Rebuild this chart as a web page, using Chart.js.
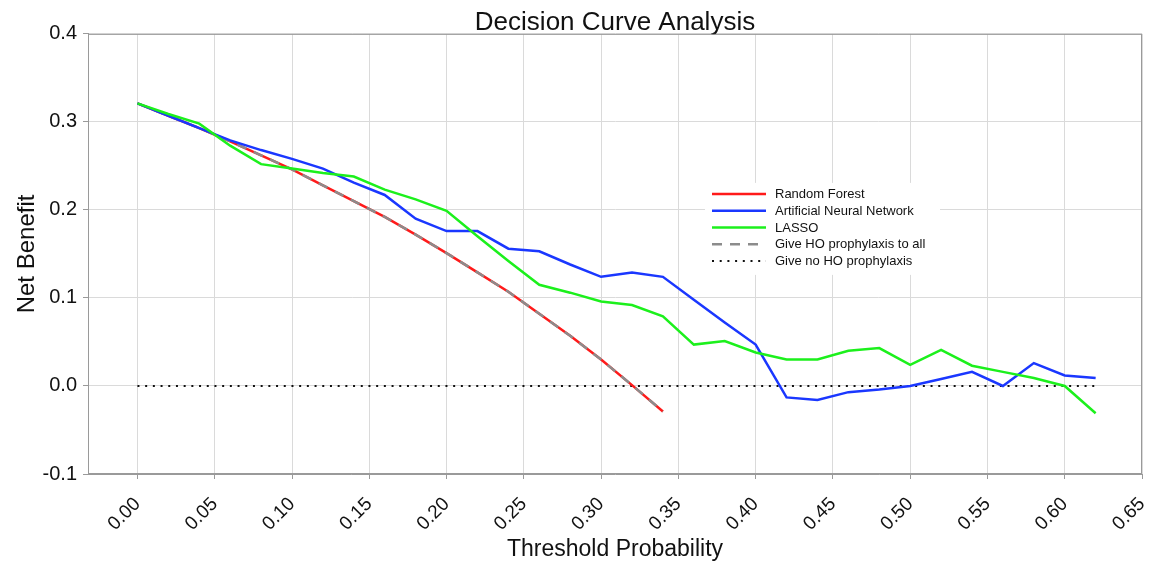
<!DOCTYPE html>
<html lang="en">
  <head>
    <meta charset="UTF-8" />
    <title>Decision Curve Analysis</title>
    <script src="https://cdn.jsdelivr.net/npm/chart.js"></script>
    <style>
      html,
      body {
        margin: 0;
        background: #fff;
        font-family: "Liberation Sans", Arial, sans-serif;
      }
    </style>
  </head>
  <body>
    <canvas id="dca" width="1151" height="564"></canvas>
  </body>
  <script>
    // threshold probabilities (every 0.02)
    const thresholds = [
      0, 0.02, 0.04, 0.06, 0.08, 0.1, 0.12, 0.14, 0.16, 0.18, 0.2, 0.22, 0.24,
      0.26, 0.28, 0.3, 0.32, 0.34, 0.36, 0.38, 0.4, 0.42, 0.44, 0.46, 0.48, 0.5,
      0.52, 0.54, 0.56, 0.58, 0.6, 0.62,
    ];

    const randomForest = [
      0.321, 0.307, 0.293, 0.278, 0.262, 0.246, 0.228, 0.21, 0.192, 0.172,
      0.151, 0.129, 0.107, 0.082, 0.057, 0.03, 0.001, -0.029,
    ];
    const neuralNetwork = [
      0.321, 0.307, 0.293, 0.279, 0.268, 0.258, 0.247, 0.231, 0.217, 0.19,
      0.176, 0.176, 0.156, 0.153, 0.138, 0.124, 0.129, 0.124, 0.098, 0.072,
      0.047, -0.013, -0.016, -0.007, -0.004, 0.0, 0.008, 0.016, 0.0, 0.026,
      0.012, 0.009,
    ];
    const lasso = [
      0.321, 0.309, 0.298, 0.273, 0.252, 0.247, 0.242, 0.238, 0.223, 0.212,
      0.199, 0.17, 0.142, 0.115, 0.106, 0.096, 0.092, 0.079, 0.047, 0.051,
      0.038, 0.03, 0.03, 0.04, 0.043, 0.024, 0.041, 0.023, 0.016, 0.009, 0.0,
      -0.031,
    ];
    const treatAll = [
      0.321, 0.307, 0.293, 0.278, 0.262, 0.246, 0.228, 0.21, 0.192, 0.172,
      0.151, 0.129, 0.107, 0.082, 0.057, 0.03, 0.001, -0.029,
    ];
    const treatNone = [
      0, 0, 0, 0, 0, 0, 0, 0, 0, 0, 0, 0, 0, 0, 0, 0, 0, 0, 0, 0, 0, 0, 0, 0, 0,
      0, 0, 0, 0, 0, 0, 0,
    ];

    const xTicks = [
      0, 0.05, 0.1, 0.15, 0.2, 0.25, 0.3, 0.35, 0.4, 0.45, 0.5, 0.55, 0.6, 0.65,
    ];
    const yTicks = [-0.1, 0, 0.1, 0.2, 0.3, 0.4];

    const toPoints = (vals) => vals.map((v, i) => ({ x: thresholds[i], y: v }));

    const FONT = "'Liberation Sans', Arial, sans-serif";

    const datasets = [
      {
        label: "Random Forest",
        data: toPoints(randomForest),
        borderColor: "#ff1a1a",
        borderWidth: 2.5,
        order: 4,
      },
      {
        label: "Artificial Neural Network",
        data: toPoints(neuralNetwork),
        borderColor: "#1a37ff",
        borderWidth: 2.5,
        order: 2,
      },
      {
        label: "LASSO",
        data: toPoints(lasso),
        borderColor: "#1cf01c",
        borderWidth: 2.5,
        order: 1,
      },
      {
        label: "Give HO prophylaxis to all",
        data: toPoints(treatAll),
        borderColor: "#8c8c8c",
        borderWidth: 2.5,
        borderDash: [10, 8],
        order: 3,
      },
      {
        label: "Give no HO prophylaxis",
        data: toPoints(treatNone),
        borderColor: "#111",
        borderWidth: 2,
        borderDash: [2, 5.7],
        order: 5,
      },
    ];

    // legend drawn inside the plot on a white box
    const insideLegend = {
      id: "insideLegend",
      beforeDatasetsDraw(chart) {
        const { ctx, chartArea } = chart;
        const bx = chartArea.left + 617;
        const by = chartArea.top + 149;
        ctx.save();
        ctx.fillStyle = "#fff";
        ctx.fillRect(bx, by, 235, 92);
        ctx.font = "13px " + FONT;
        ctx.textBaseline = "middle";
        ctx.fillStyle = "#111";
        chart.data.datasets.forEach((ds, i) => {
          const y = by + 11 + i * 16.8;
          ctx.beginPath();
          ctx.strokeStyle = ds.borderColor;
          ctx.lineWidth = ds.borderWidth;
          ctx.setLineDash(ds.borderDash || []);
          ctx.moveTo(bx + 7, y);
          ctx.lineTo(bx + 61, y);
          ctx.stroke();
          ctx.setLineDash([]);
          ctx.fillText(ds.label, bx + 70, y + 0.5);
        });
        ctx.restore();
      },
      afterDraw(chart) {
        const { ctx, chartArea } = chart;
        ctx.save();
        ctx.strokeStyle = "#9a9a9a";
        ctx.lineWidth = 1;
        ctx.strokeRect(
          chartArea.left + 0.5,
          chartArea.top + 0.5,
          chartArea.width - 1,
          chartArea.height - 1
        );
        ctx.restore();
      },
    };

    new Chart(document.getElementById("dca"), {
      type: "line",
      data: { datasets: datasets },
      plugins: [insideLegend],
      options: {
        responsive: false,
        animation: false,
        devicePixelRatio: 1,
        layout: { padding: { top: 0, left: 0, right: 9, bottom: 0 } },
        elements: {
          point: { radius: 0 },
          line: { tension: 0, fill: false, borderCapStyle: "butt" },
        },
        plugins: {
          legend: { display: false },
          tooltip: { enabled: false },
          title: {
            display: true,
            fullSize: false,
            text: "Decision Curve Analysis",
            color: "#111",
            font: { family: FONT, size: 26, weight: "normal", lineHeight: 0.88 },
            padding: { top: 11, bottom: 0 },
          },
        },
        scales: {
          x: {
            type: "linear",
            min: -0.032,
            max: 0.65,
            afterBuildTicks: (scale) => {
              scale.ticks = xTicks.map((v) => ({ value: v }));
            },
            afterFit: (scale) => {
              scale.height = 90;
              scale.paddingLeft = 0;
              scale.paddingRight = 0;
            },
            grid: { color: "#dadada", tickColor: "#9a9a9a", tickLength: 5 },
            border: { color: "#9a9a9a" },
            ticks: {
              autoSkip: false,
              minRotation: 45,
              maxRotation: 45,
              padding: 14,
              color: "#111",
              font: { family: FONT, size: 19 },
              callback: (v) => v.toFixed(2),
            },
            title: {
              display: true,
              text: "Threshold Probability",
              color: "#111",
              font: { family: FONT, size: 23 },
              padding: { top: 0, bottom: 1 },
            },
          },
          y: {
            min: -0.1,
            max: 0.4,
            afterBuildTicks: (scale) => {
              scale.ticks = yTicks.map((v) => ({ value: v }));
            },
            afterFit: (scale) => {
              scale.width = 88;
              scale.paddingTop = 0;
              scale.paddingBottom = 0;
            },
            grid: { color: "#dadada", tickColor: "#9a9a9a", tickLength: 5 },
            border: { color: "#9a9a9a" },
            ticks: {
              padding: 6,
              color: "#111",
              font: { family: FONT, size: 20 },
              callback: (v) => v.toFixed(1),
            },
            title: {
              display: true,
              text: "Net Benefit",
              color: "#111",
              font: { family: FONT, size: 24 },
              padding: { top: 13, bottom: 0 },
            },
          },
        },
      },
    });
  </script>
</html>
